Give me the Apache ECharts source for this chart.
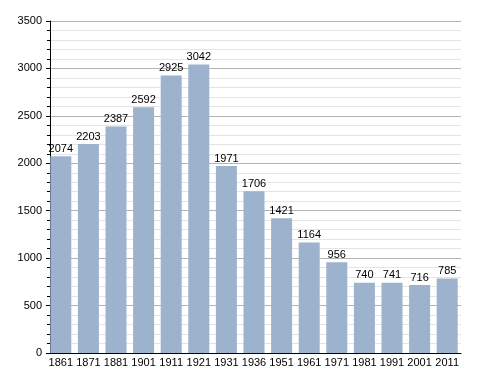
<!DOCTYPE html>
<html><head><meta charset="utf-8">
<script src="https://cdn.jsdelivr.net/npm/echarts@6/dist/echarts.min.js"></script>
<style>html,body{margin:0;padding:0;background:#fff}#c{width:488px;height:373px}</style>
</head><body><div id="c"></div>
<script>
const categories = ['1861','1871','1881','1901','1911','1921','1931','1936','1951','1961','1971','1981','1991','2001','2011'];
const population = [2074,2203,2387,2592,2925,3042,1971,1706,1421,1164,956,740,741,716,785];
const yTicks = [0,500,1000,1500,2000,2500,3000,3500];

const chart = echarts.init(document.getElementById('c'), null, {renderer:'canvas'});
chart.setOption({
  animation:false,
  textStyle:{fontFamily:'Liberation Sans, Arial, sans-serif'},
  grid:{left:47,right:27,top:21,bottom:20,containLabel:false},
  xAxis:{type:'category',data:categories,
    axisLine:{lineStyle:{color:'#000',width:1}},
    axisTick:{show:false},
    axisLabel:{color:'#000',fontSize:11,margin:4,interval:0}},
  yAxis:{type:'value',min:yTicks[0],max:yTicks[yTicks.length-1],interval:500,offset:-3,
    axisLine:{show:true,lineStyle:{color:'#000'}},
    axisTick:{show:true,inside:false,length:4,lineStyle:{color:'#000'}},
    minorTick:{show:true,splitNumber:5,length:3,lineStyle:{color:'#000'}},
    splitLine:{show:true,lineStyle:{color:'#b4b4b4',width:1}},
    minorSplitLine:{show:true,lineStyle:{color:'#e4e4e4',width:1}},
    axisLabel:{color:'#000',fontSize:11,margin:8,formatter:v=>String(v)}},
  series:[{type:'bar',data:population,barWidth:21,
    itemStyle:{color:'#9cb2cd'},
    label:{show:true,position:'top',color:'#000',fontSize:11,distance:2}}]
});
</script></body></html>
